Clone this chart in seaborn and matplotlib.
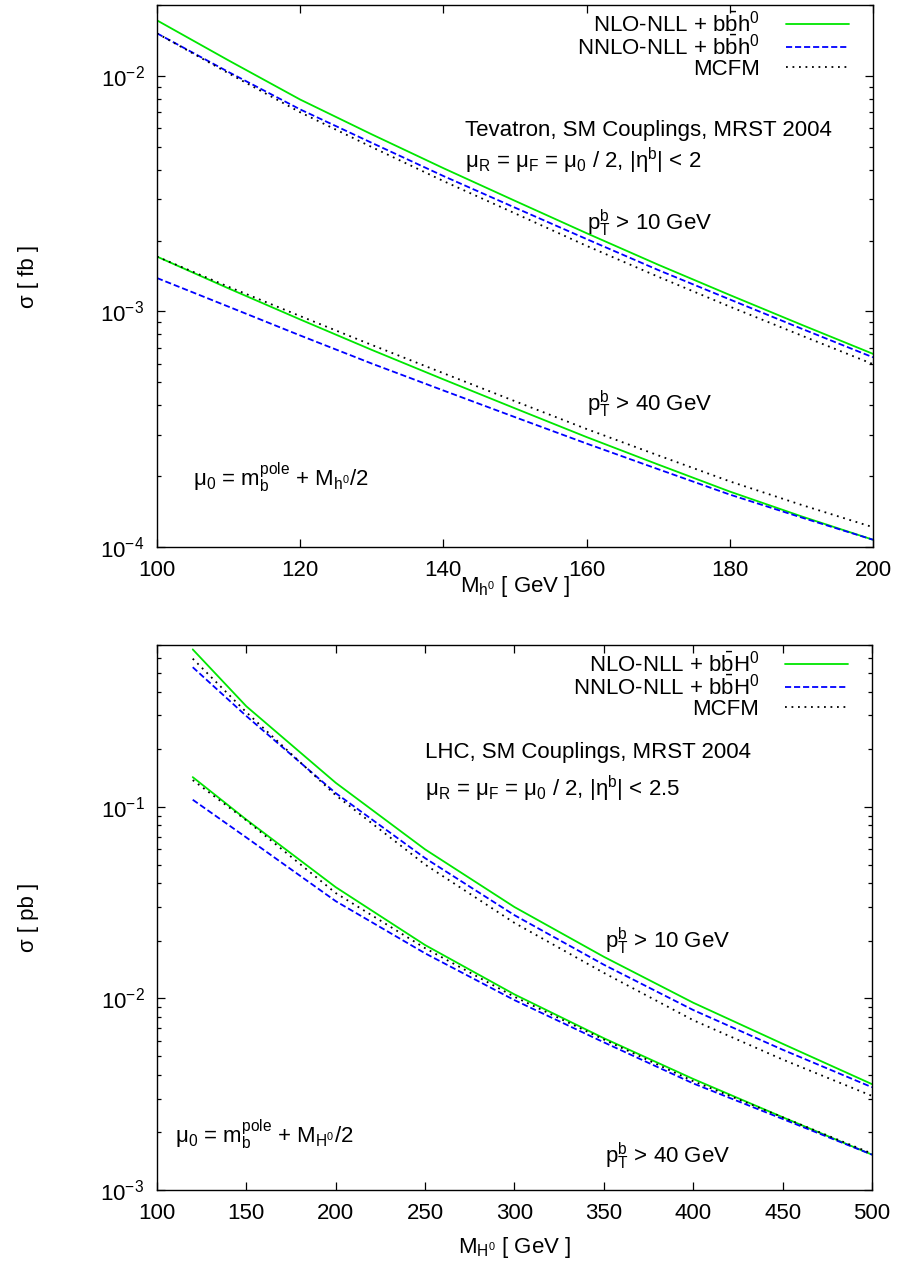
import numpy as np
import pandas as pd
import matplotlib
matplotlib.use("Agg")
import matplotlib.pyplot as plt
import seaborn as sns
from matplotlib.ticker import NullFormatter

# ---- data ----
# Tevatron (top panel)
mass_tev = [100, 110, 120, 130, 140, 150, 160, 170, 180, 190, 200]
tev_nlo_10 = [0.01722, 0.01164, 0.00794, 0.00565, 0.00406, 0.00295, 0.00215, 0.00158, 0.001175, 0.000879, 0.000661]
tev_nnlo_10 = [0.01517, 0.01039, 0.00721, 0.00520, 0.00376, 0.00276, 0.00203, 0.00150, 0.001125, 0.000846, 0.000639]
tev_mcfm_10 = [0.01517, 0.01026, 0.00701, 0.00499, 0.00358, 0.00261, 0.00190, 0.001405, 0.001049, 0.000791, 0.000598]
tev_nlo_40 = [0.001710, 0.001253, 0.000925, 0.000687, 0.000515, 0.000388, 0.000293, 0.000224, 0.000172, 0.000135, 0.0001074]
tev_nnlo_40 = [0.001387, 0.001048, 0.000791, 0.000601, 0.000462, 0.000356, 0.000275, 0.000214, 0.000167, 0.0001335, 0.0001074]
tev_mcfm_40 = [0.001710, 0.001273, 0.000956, 0.000721, 0.000547, 0.000416, 0.000317, 0.000245, 0.000190, 0.000151, 0.0001214]

# LHC (bottom panel)
mass_lhc = [120, 150, 200, 250, 300, 350, 400, 450, 500]
lhc_nlo_10 = [0.664, 0.335, 0.1336, 0.060, 0.030, 0.0165, 0.0095, 0.0058, 0.00357]
lhc_nnlo_10 = [0.536, 0.298, 0.118, 0.054, 0.0272, 0.0150, 0.0087, 0.0054, 0.00344]
lhc_mcfm_10 = [0.594, 0.312, 0.115, 0.050, 0.0248, 0.0136, 0.0077, 0.0048, 0.0031]
lhc_nlo_40 = [0.143, 0.0858, 0.0381, 0.0190, 0.0105, 0.0062, 0.0038, 0.0024, 0.00153]
lhc_nnlo_40 = [0.109, 0.0692, 0.0322, 0.0172, 0.0098, 0.0059, 0.0036, 0.00235, 0.00153]
lhc_mcfm_40 = [0.138, 0.085, 0.0355, 0.0183, 0.0102, 0.0061, 0.0037, 0.0024, 0.00155]

tev_labels = [r"NLO-NLL + b$\bar{\mathrm{b}}$h$^0$", r"NNLO-NLL + b$\bar{\mathrm{b}}$h$^0$", "MCFM"]
lhc_labels = [r"NLO-NLL + b$\bar{\mathrm{b}}$H$^0$", r"NNLO-NLL + b$\bar{\mathrm{b}}$H$^0$", "MCFM"]

tev_xticks = [100, 120, 140, 160, 180, 200]
lhc_xticks = [100, 150, 200, 250, 300, 350, 400, 450, 500]

# ---- style ----
sns.set_style("ticks", {"axes.edgecolor": "black", "xtick.color": "black",
                        "ytick.color": "black", "text.color": "black",
                        "axes.labelcolor": "black"})
plt.rcParams["font.family"] = ["Liberation Sans", "DejaVu Sans"]
plt.rcParams["mathtext.fontset"] = "custom"
plt.rcParams["mathtext.rm"] = "Liberation Sans"
plt.rcParams["mathtext.it"] = "Liberation Sans:italic"
plt.rcParams["mathtext.bf"] = "Liberation Sans:bold"
plt.rcParams["axes.unicode_minus"] = False
FS = 16

colors = ["#00e600", "#0000ff", "#000000"]
dash_list = ["", (3.4, 1.6), (1.0, 2.6)]


def long_df(mass, series, labels):
    rows = []
    for cut, group in series.items():
        for lab, vals in zip(labels, group):
            for m, v in zip(mass, vals):
                rows.append({"mass": m, "sigma": v, "calc": lab, "cut": cut})
    return pd.DataFrame(rows)


def draw(ax, df, labels):
    sns.lineplot(data=df, x="mass", y="sigma", hue="calc", style="calc",
                 units="cut", estimator=None, sort=False,
                 hue_order=labels, style_order=labels,
                 palette=dict(zip(labels, colors)),
                 dashes=dict(zip(labels, dash_list)),
                 linewidth=1.3, ax=ax)
    ax.set_yscale("log")
    ax.tick_params(which="both", direction="in", top=True, right=True,
                   labelsize=FS, pad=9)
    ax.tick_params(which="major", length=6, width=0.9)
    ax.tick_params(which="minor", length=3, width=0.9)
    ax.yaxis.set_minor_formatter(NullFormatter())
    ax.xaxis.set_minor_locator(matplotlib.ticker.NullLocator())
    for s in ax.spines.values():
        s.set_linewidth(1.0)
    sns.move_legend(ax, "upper right", bbox_to_anchor=(0.985, 1.012),
                    frameon=False, markerfirst=False, fontsize=FS,
                    handlelength=2.85, handletextpad=1.15, labelspacing=-0.05,
                    borderaxespad=0.3, borderpad=0.3)
    ax.get_legend().set_title("")


fig = plt.figure(figsize=(8.97, 12.61), dpi=100)
ax1 = fig.add_axes([0.1750, 0.5662, 0.7982, 0.4298])
ax2 = fig.add_axes([0.1750, 0.0563, 0.7971, 0.4322])

tev = long_df(mass_tev, {"10": [tev_nlo_10, tev_nnlo_10, tev_mcfm_10],
                         "40": [tev_nlo_40, tev_nnlo_40, tev_mcfm_40]}, tev_labels)
lhc = long_df(mass_lhc, {"10": [lhc_nlo_10, lhc_nnlo_10, lhc_mcfm_10],
                         "40": [lhc_nlo_40, lhc_nnlo_40, lhc_mcfm_40]}, lhc_labels)

# top: Tevatron
draw(ax1, tev, tev_labels)
ax1.set_xlim(100, 200)
ax1.set_ylim(1e-4, 2e-2)
ax1.set_xticks(tev_xticks)
ax1.set_xlabel(r"M$_{\mathrm{h}^0}$ [ GeV ]", fontsize=FS)
ax1.set_ylabel(r"σ [ fb ]", fontsize=FS)
ax1.xaxis.set_label_coords(0.5, -0.05)
ax1.yaxis.set_label_coords(-0.165, 0.5)
ax1.text(0.430, 0.758, "Tevatron, SM Couplings, MRST 2004", transform=ax1.transAxes, fontsize=FS)
ax1.text(0.430, 0.699, r"μ$_\mathrm{R}$ = μ$_\mathrm{F}$ = μ$_0$ / 2, |η$^\mathrm{b}$| < 2",
         transform=ax1.transAxes, fontsize=FS)
ax1.text(0.601, 0.585, r"p$_\mathrm{T}^\mathrm{b}$ > 10 GeV", transform=ax1.transAxes, fontsize=FS)
ax1.text(0.601, 0.250, r"p$_\mathrm{T}^\mathrm{b}$ > 40 GeV", transform=ax1.transAxes, fontsize=FS)
ax1.text(0.050, 0.113, r"μ$_0$ = m$_\mathrm{b}^\mathrm{pole}$ + M$_{\mathrm{h}^0}$/2",
         transform=ax1.transAxes, fontsize=FS)

# bottom: LHC
draw(ax2, lhc, lhc_labels)
ax2.set_xlim(100, 500)
ax2.set_ylim(1e-3, 0.7)
ax2.set_xticks(lhc_xticks)
ax2.set_xlabel(r"M$_{\mathrm{H}^0}$ [ GeV ]", fontsize=FS)
ax2.set_ylabel(r"σ [ pb ]", fontsize=FS)
ax2.xaxis.set_label_coords(0.5, -0.082)
ax2.yaxis.set_label_coords(-0.165, 0.5)
ax2.text(0.375, 0.792, "LHC, SM Couplings, MRST 2004", transform=ax2.transAxes, fontsize=FS)
ax2.text(0.375, 0.722, r"μ$_\mathrm{R}$ = μ$_\mathrm{F}$ = μ$_0$ / 2, |η$^\mathrm{b}$| < 2.5",
         transform=ax2.transAxes, fontsize=FS)
ax2.text(0.627, 0.444, r"p$_\mathrm{T}^\mathrm{b}$ > 10 GeV", transform=ax2.transAxes, fontsize=FS)
ax2.text(0.627, 0.050, r"p$_\mathrm{T}^\mathrm{b}$ > 40 GeV", transform=ax2.transAxes, fontsize=FS)
ax2.text(0.025, 0.085, r"μ$_0$ = m$_\mathrm{b}^\mathrm{pole}$ + M$_{\mathrm{H}^0}$/2",
         transform=ax2.transAxes, fontsize=FS)

fig.savefig("out.png", dpi=100)
